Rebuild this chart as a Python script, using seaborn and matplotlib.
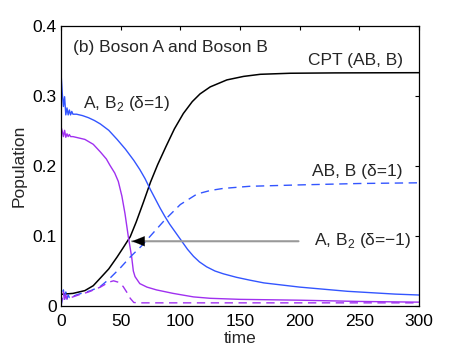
import matplotlib
matplotlib.use("Agg")
import matplotlib.pyplot as plt
import seaborn as sns

# CPT (AB, B) - black
t_cpt = [0, 10, 20, 27, 33, 40, 47, 52, 58, 63, 69, 75, 81, 88, 95, 102.5, 110, 116.5, 125,
         139, 153, 167, 192, 230, 300]
y_cpt = [0.0167, 0.018, 0.022, 0.029, 0.040, 0.053, 0.070, 0.083, 0.099, 0.120, 0.148, 0.177,
         0.202, 0.228, 0.253, 0.275, 0.292, 0.303, 0.313, 0.323, 0.328, 0.331, 0.3325, 0.333,
         0.3333]

# A, B2 (delta=1) - blue solid
t_ab2 = [0, 1, 2, 3, 4, 5, 6, 7, 8, 9, 10, 13, 18, 23, 28, 33, 40, 47, 54, 61, 66, 70.4, 75,
         79, 83, 87, 91, 96, 101, 106, 111, 116, 122, 129, 136, 147, 158, 170, 185, 200, 220,
         240, 260, 280, 300]
y_ab2 = [0.333, 0.305, 0.285, 0.299, 0.273, 0.283, 0.273, 0.280, 0.273, 0.278, 0.274, 0.274,
         0.272, 0.269, 0.265, 0.260, 0.251, 0.238, 0.224, 0.208, 0.195, 0.182, 0.166, 0.153,
         0.140, 0.128, 0.117, 0.105, 0.093, 0.081, 0.071, 0.063, 0.056, 0.050, 0.046, 0.041,
         0.037, 0.033, 0.030, 0.027, 0.024, 0.021, 0.019, 0.017, 0.0157]

# A, B2 (delta=-1) - purple solid
t_ab2m = [0, 1, 2, 3, 4, 5, 6, 7, 8, 10, 20, 27, 33, 38, 41, 45, 48, 51, 53.6, 56.4, 59.2,
          60.6, 62, 66, 72, 80, 94, 111, 125, 150, 200, 250, 300]
y_ab2m = [0.256, 0.250, 0.242, 0.251, 0.241, 0.246, 0.242, 0.245, 0.242, 0.242, 0.238, 0.231,
          0.220, 0.210, 0.201, 0.190, 0.178, 0.157, 0.132, 0.099, 0.070, 0.050, 0.042, 0.032,
          0.027, 0.023, 0.018, 0.013, 0.011, 0.0095, 0.0083, 0.0065, 0.0055]

# AB, B (delta=1) - blue dashed
t_abb = [0, 1, 2, 3, 4, 5, 6, 7, 8, 10, 15, 25, 33, 40, 50, 58, 67, 77, 87, 100, 114, 125,
         136, 158, 200, 250, 300]
y_abb = [0.0, 0.010, 0.023, 0.008, 0.020, 0.010, 0.016, 0.012, 0.015, 0.014, 0.017, 0.022,
         0.028, 0.038, 0.055, 0.070, 0.085, 0.104, 0.123, 0.145, 0.160, 0.165, 0.168, 0.171,
         0.173, 0.175, 0.176]

# AB, B (delta=-1) - purple dashed
t_abbm = [0, 1, 2, 3, 4, 5, 6, 8, 10, 15, 23, 33, 40, 44, 48, 52, 55, 58, 61, 65, 80, 150,
          300]
y_abbm = [0.0, 0.012, 0.020, 0.006, 0.016, 0.010, 0.013, 0.012, 0.013, 0.016, 0.020, 0.027,
          0.034, 0.036, 0.034, 0.028, 0.020, 0.011, 0.005, 0.0045, 0.0045, 0.0045, 0.0045]

x_ticks = [0, 50, 100, 150, 200, 250, 300]
y_ticks = [0, 0.1, 0.2, 0.3, 0.4]
y_ticklabels = ["0", "0.1", "0.2", "0.3", "0.4"]

blue = "#3355ff"
purple = "#a030f0"

sns.set_theme(style="white")
plt.rcParams["font.family"] = ["Liberation Sans", "DejaVu Sans"]
plt.rcParams["mathtext.fontset"] = "custom"
plt.rcParams["mathtext.rm"] = "Liberation Sans"

fig = plt.figure(figsize=(4.63, 3.49), dpi=100)
ax = fig.add_axes([0.1318, 0.1232, 0.7732, 0.8023])

sns.lineplot(x=t_cpt, y=y_cpt, color="black", lw=1.1, estimator=None, ax=ax)
sns.lineplot(x=t_ab2, y=y_ab2, color=blue, lw=1.0, estimator=None, ax=ax)
sns.lineplot(x=t_ab2m, y=y_ab2m, color=purple, lw=1.0, estimator=None, ax=ax)
sns.lineplot(x=t_abb, y=y_abb, color=blue, lw=1.0, linestyle=(0, (6, 4)),
             estimator=None, ax=ax)
sns.lineplot(x=t_abbm, y=y_abbm, color=purple, lw=1.0, linestyle=(0, (6, 4)),
             estimator=None, ax=ax)

# arrow pointing at the delta=-1 curve: gray shaft, black head
ax.annotate("", xy=(59.5, 0.0925), xytext=(199, 0.0925),
            arrowprops=dict(arrowstyle="-", color="#999999", lw=1.5,
                            shrinkA=0, shrinkB=0))
ax.annotate("", xy=(59.5, 0.0925), xytext=(69, 0.0925),
            arrowprops=dict(arrowstyle="-|>,head_length=0.75,head_width=0.3",
                            color="black", lw=0.1, shrinkA=0, shrinkB=0))

fs = 12.5
ax.text(10.3, 0.370, "(b) Boson A and Boson B", fontsize=fs, va="center", ha="left")
ax.text(18.7, 0.290, r"A, B$_\mathregular{2}$ (δ=1)", fontsize=fs, va="center", ha="left")
ax.text(206.7, 0.351, "CPT (AB, B)", fontsize=fs, va="center", ha="left")
ax.text(210, 0.192, "AB, B (δ=1)", fontsize=fs, va="center", ha="left")
ax.text(212, 0.094, r"A, B$_\mathregular{2}$ (δ=−1)", fontsize=fs, va="center", ha="left")

ax.set_xlim(0, 300)
ax.set_ylim(0, 0.4)
ax.set_xticks(x_ticks)
ax.set_yticks(y_ticks)
ax.set_yticklabels(y_ticklabels)
ax.tick_params(direction="in", length=3, width=0.8, top=True, right=True,
               labelsize=fs, colors="black")
ax.tick_params(axis="x", pad=6)
ax.tick_params(axis="y", pad=3)
ax.set_xlabel("time", fontsize=fs, labelpad=1)
ax.set_ylabel("Population", fontsize=fs, labelpad=4)
for s in ax.spines.values():
    s.set_visible(True)
    s.set_color("black")
    s.set_linewidth(0.9)

fig.savefig("out.png", dpi=100)
